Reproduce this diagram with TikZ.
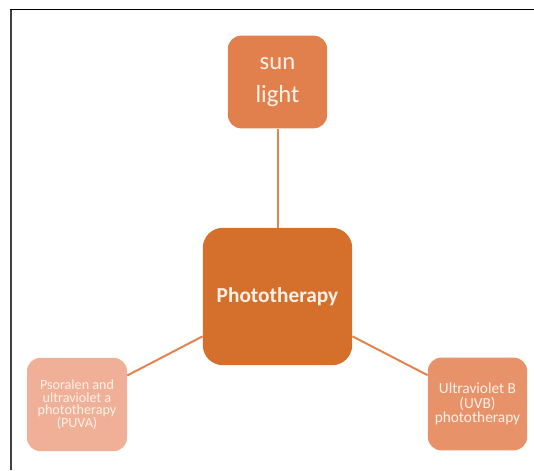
\documentclass[tikz,border=0pt]{standalone}
\usepackage{fontspec}
\setmainfont{Carlito}
\definecolor{sunorange}{HTML}{E1804C}
\definecolor{mainorange}{HTML}{D5702C}
\definecolor{puvapink}{HTML}{F0B097}
\definecolor{uvbsalmon}{HTML}{E8926A}
\definecolor{linkorange}{HTML}{E2844F}
\definecolor{cream}{HTML}{FFF1E8}
\begin{document}
\begin{tikzpicture}[x=0.75pt, y=-0.75pt,
    leaf/.style={rounded corners=10pt, text=cream, align=center, inner sep=0pt,
      minimum width=74.5pt, minimum height=69.5pt},
    hub/.style={rounded corners=15pt, fill=mainorange, text=cream, align=center,
      minimum width=112pt, minimum height=103pt, font=\bfseries\fontsize{16}{19}\selectfont},
    link/.style={linkorange, line width=1.5pt}]
  \useasboundingbox (0,0) rectangle (534,470);

  % Frame
  \draw[black!75, line width=1.5pt] (10.5,470) -- (10.5,9.5);
  \draw[black, line width=1pt] (10,9.5) -- (534,9.5);

  % Centre
  \node[hub] (photo) at (277.5,296.5) {Phototherapy};

  % Branches
  \node[leaf, fill=sunorange, font=\fontsize{18.5}{25}\selectfont] (sun) at (277.5,82) {sun\\light};
  \node[leaf, fill=puvapink, minimum width=75pt, minimum height=70pt,
    font=\fontsize{10.6}{9.6}\selectfont] (puva) at (77,404.5)
    {Psoralen and\\ultraviolet a\\phototherapy\\(PUVA)};
  \node[leaf, fill=uvbsalmon, font=\fontsize{11.5}{11}\selectfont] (uvb) at (477.5,404)
    {Ultraviolet B\\(UVB)\\phototherapy};

  % Links
  \draw[link] (sun.south) -- (photo.north);
  \draw[link] (puva.30) -- (photo.208);
  \draw[link] (uvb.150) -- (photo.332);
\end{tikzpicture}
\end{document}
